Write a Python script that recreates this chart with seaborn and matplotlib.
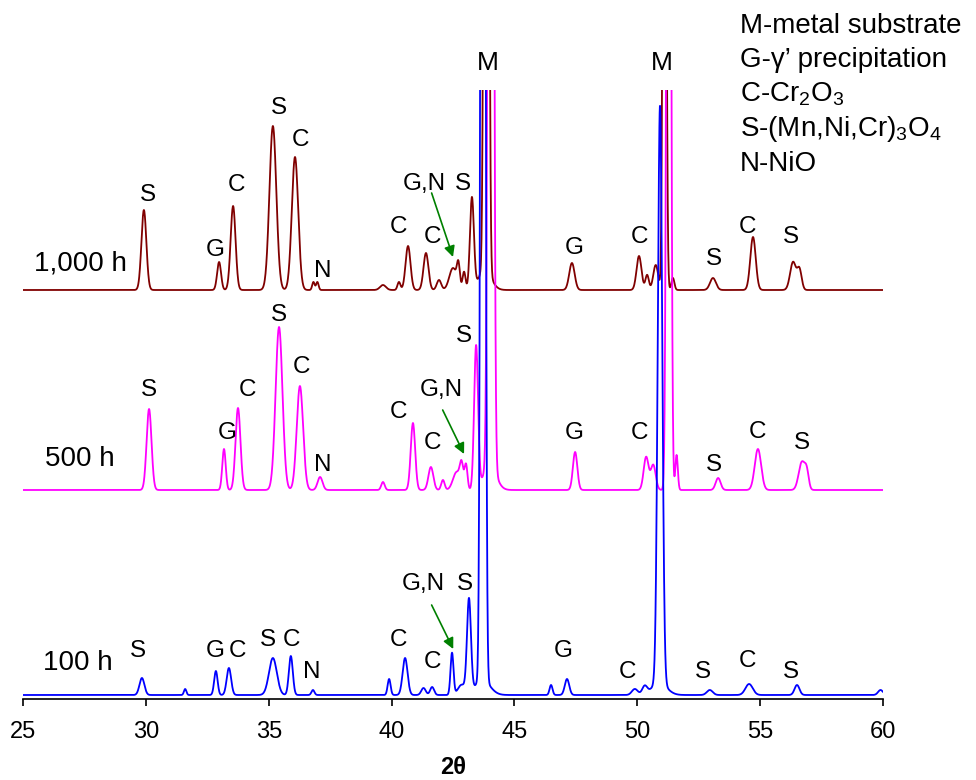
import numpy as np
import pandas as pd
import matplotlib
matplotlib.use("Agg")
import matplotlib.pyplot as plt
import seaborn as sns

# ---------------- data ----------------
samples = ["100 h", "500 h", "1,000 h"]
baselines = [4, 209, 409]          # vertical offsets of each pattern (arb. units)

# 100 h pattern : peak centres (2theta), heights, widths (sigma, deg)
pos_100 = [29.84, 31.60, 32.85, 33.38, 35.17, 35.90, 36.80, 39.90, 40.55, 41.30,
           41.65, 42.46, 42.85, 43.15, 43.72, 43.70, 46.49, 47.14, 49.90, 50.30,
           50.925, 50.90, 52.95, 54.55, 56.50, 59.90]
hgt_100 = [17, 6, 24, 27, 37, 39, 5, 16, 37, 7,
           8, 42, 10, 93, 2500, 15, 10, 16, 6, 8,
           578, 12, 5, 11, 10, 5]
wid_100 = [0.10, 0.05, 0.07, 0.09, 0.16, 0.08, 0.06, 0.06, 0.10, 0.09,
           0.08, 0.06, 0.15, 0.08, 0.07, 0.30, 0.06, 0.09, 0.12, 0.10,
           0.09, 0.30, 0.12, 0.15, 0.10, 0.10]

# 500 h pattern
pos_500 = [30.13, 33.18, 33.75, 35.42, 36.27, 37.09, 39.65, 40.87, 41.60, 42.09,
           42.65, 42.85, 43.03, 43.44, 44.04, 44.00, 47.47, 50.36, 50.65, 51.28,
           51.60, 53.29, 54.91, 56.70, 56.90]
hgt_500 = [81, 41, 82, 163, 104, 13, 8, 67, 23, 10,
           18, 22, 25, 143, 2500, 25, 38, 33, 25, 1500,
           35, 12, 41, 28, 15]
wid_500 = [0.10, 0.07, 0.10, 0.14, 0.13, 0.10, 0.07, 0.09, 0.10, 0.07,
           0.15, 0.07, 0.06, 0.08, 0.08, 0.25, 0.09, 0.10, 0.10, 0.07,
           0.05, 0.10, 0.13, 0.13, 0.08]

# 1,000 h pattern
pos_1000 = [29.92, 32.98, 33.55, 35.17, 36.07, 36.82, 36.98, 39.65, 40.30, 40.67,
            41.40, 41.93, 42.50, 42.72, 42.95, 43.27, 43.86, 43.80, 47.34, 50.07,
            50.40, 50.75, 51.11, 51.45, 53.08, 54.71, 56.34, 56.60]
hgt_1000 = [80, 28, 84, 164, 133, 8, 8, 5, 8, 44,
            37, 10, 22, 22, 18, 91, 2000, 20, 27, 34,
            15, 25, 900, 12, 12, 53, 28, 20]
wid_1000 = [0.10, 0.08, 0.10, 0.14, 0.13, 0.05, 0.05, 0.12, 0.06, 0.10,
            0.10, 0.09, 0.15, 0.06, 0.06, 0.08, 0.07, 0.25, 0.11, 0.10,
            0.07, 0.10, 0.06, 0.06, 0.12, 0.11, 0.12, 0.09]

# phase labels per pattern: (text, 2theta, height)
labels_100 = [("S", 29.68, 48), ("G", 32.81, 48), ("C", 33.71, 48), ("S", 34.97, 59),
              ("C", 35.91, 59), ("N", 36.76, 27), ("C", 40.30, 59), ("C", 41.65, 37),
              ("G,N", 41.28, 115), ("S", 42.99, 115), ("G", 46.98, 48), ("C", 49.62, 27),
              ("S", 52.67, 27), ("C", 54.47, 38), ("S", 56.26, 27)]
labels_500 = [("S", 30.13, 309), ("G", 33.30, 266), ("C", 34.12, 309), ("S", 35.42, 384),
              ("C", 36.35, 332), ("N", 37.21, 234), ("C", 40.30, 287), ("C", 41.65, 256),
              ("G,N", 42.01, 309), ("S", 42.95, 363), ("G", 47.42, 266), ("C", 50.07, 266),
              ("S", 53.12, 234), ("C", 54.91, 267), ("S", 56.70, 256)]
labels_1000 = [("S", 30.09, 504), ("G", 32.81, 449), ("C", 33.67, 514), ("S", 35.42, 591),
               ("C", 36.31, 559), ("N", 37.21, 428), ("C", 40.30, 472), ("C", 41.65, 462),
               ("G,N", 41.32, 515), ("S", 42.91, 515), ("G", 47.42, 451), ("C", 50.07, 462),
               ("S", 53.12, 440), ("C", 54.47, 472), ("S", 56.26, 462)]
metal_labels = [("M", 43.92, 636), ("M", 51.01, 636)]
sample_label_pos = [(27.24, 36), (27.32, 240), (27.32, 436)]
arrows = [((41.63, 94), (42.51, 50)), ((42.08, 289), (42.95, 245)),
          ((41.63, 506), (42.50, 442))]
legend_lines = ["M-metal substrate", "G-\u03b3\u2019 precipitation", r"C-Cr$_2$O$_3$",
                r"S-(Mn,Ni,Cr)$_3$O$_4$", "N-NiO"]
xticks = [25, 30, 35, 40, 45, 50, 55, 60]

# ---------------- build patterns ----------------
two_theta = np.arange(25.0, 60.0001, 0.01)

def pattern(base, pos, hgt, wid):
    y = np.full_like(two_theta, float(base))
    for p, h, w in zip(pos, hgt, wid):
        y += h * np.exp(-0.5 * ((two_theta - p) / w) ** 2)
    return y

curves = {
    "1,000 h": pattern(baselines[2], pos_1000, hgt_1000, wid_1000),
    "500 h": pattern(baselines[1], pos_500, hgt_500, wid_500),
    "100 h": pattern(baselines[0], pos_100, hgt_100, wid_100),
}
df = pd.concat([pd.DataFrame({"two_theta": two_theta, "intensity": v, "sample": k})
                for k, v in curves.items()], ignore_index=True)

# ---------------- style ----------------
sns.set_style("white")
plt.rcParams["font.family"] = ["Liberation Sans", "DejaVu Sans"]
plt.rcParams["text.color"] = "black"
plt.rcParams["axes.labelcolor"] = "black"
plt.rcParams["xtick.color"] = "black"
plt.rcParams["xtick.bottom"] = True
plt.rcParams["mathtext.fontset"] = "custom"
plt.rcParams["mathtext.rm"] = "Liberation Sans"
plt.rcParams["mathtext.it"] = "Liberation Sans:italic"
plt.rcParams["mathtext.bf"] = "Liberation Sans:bold"

palette = {"1,000 h": "#800000", "500 h": "#ff00ff", "100 h": "#0000ff"}

fig = plt.figure(figsize=(9.76, 7.8), dpi=100)
ax = fig.add_axes([23 / 976, 81 / 780, 860 / 976, 609 / 780])

sns.lineplot(data=df, x="two_theta", y="intensity", hue="sample",
             hue_order=["1,000 h", "500 h", "100 h"], palette=palette,
             estimator=None, sort=False, legend=False, linewidth=1.3, ax=ax)

ax.set_xlim(25, 60)
ax.set_ylim(0, 609)
ax.set_yticks([])
ax.set_ylabel("")
ax.set_xticks(xticks)
ax.set_xticklabels([str(t) for t in xticks],
                   fontfamily=["Liberation Sans Narrow", "Liberation Sans"], fontsize=17,
                   color="black")
ax.tick_params(axis="x", bottom=True, direction="out", length=5, width=1.2, pad=11,
               colors="black")
for s in ["left", "top", "right"]:
    ax.spines[s].set_visible(False)
ax.spines["bottom"].set_color("black")
ax.spines["bottom"].set_linewidth(1.2)

ax.set_xlabel("2\u03b8", fontsize=17, fontweight="bold", color="black")
ax.xaxis.set_label_coords(0.5, -0.094)
ax.xaxis.label.set_va("top")

# labels
for lab_list in (labels_100, labels_500, labels_1000):
    for t, x, y in lab_list:
        ax.text(x, y, t, fontsize=17.5, ha="center", va="center", color="black")
for t, x, y in metal_labels:
    ax.text(x, y, t, fontsize=19, ha="center", va="center", color="black", clip_on=False)
for name, (x, y) in zip(samples, sample_label_pos):
    ax.text(x, y, name, fontsize=20, ha="center", va="center", color="black")
for (x0, y0), (x1, y1) in arrows:
    ax.annotate("", xy=(x1, y1), xytext=(x0, y0),
                arrowprops=dict(arrowstyle="-|>", color="#008000", lw=1.2,
                                mutation_scale=16, shrinkA=0, shrinkB=0))

# phase key
key_baselines = [33, 67, 101, 136, 171]
for t, py in zip(legend_lines, key_baselines):
    fig.text(740 / 976, 1 - py / 780, t, fontsize=20, ha="left", va="baseline",
             color="black")

fig.savefig("out.png", dpi=100)
